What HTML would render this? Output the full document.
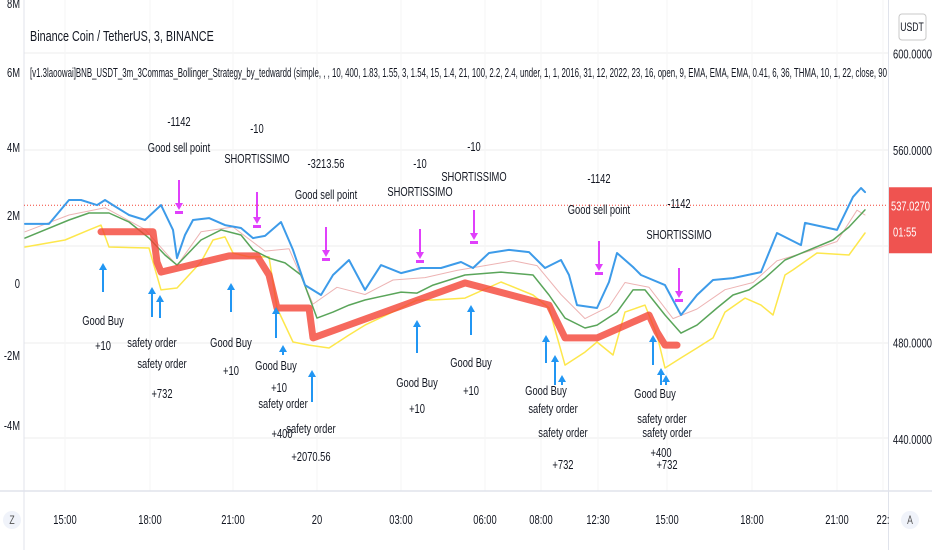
<!DOCTYPE html>
<html><head><meta charset="utf-8"><style>
html,body{margin:0;padding:0;background:#fff;}
#wrap{position:relative;width:932px;height:550px;overflow:hidden;font-family:"Liberation Sans",sans-serif;}
svg{position:absolute;left:0;top:0;}
</style></head><body>
<div id="wrap">
<svg id="chart" width="932" height="550" viewBox="0 0 932 550"></svg>
</div>
<script>
// ---- data (bar index / price) ----
const upperBars=[0,6,11,14,18,20,22,26,30,34,37,38,40,42,46,50,54,57,60,64,67,70,74,77,81,85,89,94,99,104,109,112,116,121,126,130,134,136,138,143,146,148,152,154,160,164,168,172,177,184,188,194,195,203,207,209,210];
const upperVals=[529.3,529.3,539.2,539.2,537.1,539.2,537.1,533.0,530.9,537.1,526.8,515.1,524.7,530.9,531.7,528.8,527.6,523.4,524.3,530.1,518.5,503.9,499.8,508.1,514.3,501.9,512.2,508.9,511.0,511.0,513.5,511.0,517.2,518.5,517.6,511.0,514.3,508.1,495.6,494.4,505.2,517.2,511.4,508.1,503.9,491.5,499.8,506.0,506.8,509.3,525.5,520.5,529.7,526.8,540.5,544.2,542.5];
const midBars=[0,11,16,21,26,31,35,38,44,49,54,57,61,65,69,73,77,81,85,94,98,102,110,119,127,131,135,140,143,148,152,155,160,164,168,173,177,181,185,190,202,206,210];
const midVals=[523.4,530.9,533.8,533.8,530.1,523.4,516.4,512.2,522.6,526.8,524.7,518.5,515.1,513.1,508.1,490.2,492.7,495.6,497.7,501.0,500.6,503.9,508.1,509.3,508.1,499.8,490.2,486.1,487.3,492.7,501.9,501.9,491.5,484.0,487.3,494.4,499.8,501.9,506.8,514.3,522.6,528.0,535.1];
const lowerBars=[0,10,16,19,21,31,34,38,44,47,50,52,56,61,63,67,71,76,81,85,94,98,102,110,119,127,131,135,140,143,147,150,155,158,160,164,168,172,175,180,184,187,190,192,198,206,210];
const lowerVals=[519.7,522.6,526.8,528.8,519.7,519.3,501.9,502.7,513.5,522.6,523.9,517.2,515.6,515.6,494.4,480.3,479.0,477.8,483.2,487.3,494.4,497.7,497.7,498.5,505.2,499.8,494.4,470.7,476.1,480.3,474.9,492.7,495.6,483.2,469.5,473.7,477.8,482.0,492.7,498.5,495.6,491.5,508.1,510.2,517.2,516.4,525.5];
const avgBars=[19,32,33,34,51,58,61,63,71,72,110,131,135,143,156,158,160,163];
const avgVals=[526.0,526.0,513.5,509.3,516.0,516.0,508.1,494.4,494.4,482.0,504.8,495.6,482.0,482.0,491.5,484.4,479.0,479.0];
const closeBars=[0,11,20,30,38,44,52,60,66,72,78,85,92,100,108,115,122,128,134,140,146,150,156,162,168,175,182,188,196,203,208,210];
const closeVals=[526,533,536,527,512,526,528,518,519,496,503,500,506,507,510,512,514,512,500,490,495,505,503,490,494,502,505,514,518,522,535,533];
const lastPrice=537.027;
const priceTicks=[600,560,480,440];
const priceTickLabels=["600.0000","560.0000","480.0000","440.0000"];
const leftTicks=["8M","6M","4M","2M","0","-2M","-4M"];
const leftTickY=[3,72,147,215,283,355,425];
const timeTickBars=[10,31.25,52,73,94,115,129,143.25,160.5,181.75,203,214.5];
const timeTickLabels=["15:00","18:00","21:00","20","03:00","06:00","08:00","12:30","15:00","18:00","21:00","22:"];

const X=b=>25+b*4;
const Y=p=>53.5+(600-p)*2.41;
const NS="http://www.w3.org/2000/svg";
const svg=document.getElementById('chart');
const SX=0.72;
function mk(tag,attrs,parent){const e=document.createElementNS(NS,tag);for(const k in attrs)e.setAttribute(k,attrs[k]);(parent||svg).appendChild(e);return e;}
function txt(s,x,y,size,anchor,fill,parent){const t=mk('text',{x:(x/SX).toFixed(1),y:y,transform:'scale('+SX+',1)','font-size':size,'text-anchor':anchor||'middle',fill:fill||'#131722','font-family':'"Liberation Sans",sans-serif'},parent);t.textContent=s;return t;}

// grid
const grid=mk('g',{});


[53,150,246,343,438].forEach(y=>mk('line',{x1:24,x2:888,y1:y,y2:y,stroke:'#ececec','stroke-width':1},grid));
timeTickBars.forEach(b=>mk('line',{x1:X(b),x2:X(b),y1:0,y2:491,stroke:'#f6f6f6','stroke-width':1},grid));
mk('line',{x1:24,x2:24,y1:0,y2:550,stroke:'#e0e3eb'});
mk('line',{x1:888.5,x2:888.5,y1:0,y2:550,stroke:'#e0e3eb'});
mk('line',{x1:0,x2:932,y1:491,y2:491,stroke:'#e0e3eb','stroke-width':1.5});

// last price line
const lp=mk('line',{x1:24,x2:888,y1:Y(lastPrice),y2:Y(lastPrice),stroke:'#f44336','stroke-width':1,'stroke-dasharray':'1,2'});



function series(bars,vals,color,w,name,op){
  const d=bars.map((b,i)=>(i?'L':'M')+X(b).toFixed(1)+','+Y(vals[i]).toFixed(1)).join(' ');
  const p=mk('path',{d:d,fill:'none',stroke:color,'stroke-width':w,'stroke-linejoin':'round','stroke-linecap':'round',opacity:op||1});
  
  
}
series(closeBars,closeVals,'#e8a0a0',1,'price-close-line',0.8);
series(lowerBars,lowerVals,'#fde74c',1.5,'lower-band');
series(midBars,midVals,'#5aa55a',1.5,'middle-band');
series(upperBars,upperVals,'#3d9be9',2,'upper-band');
series(avgBars,avgVals,'#f44336',7,'average-position-line',0.8);

// annotations
const ann=mk('g',{});


function up(x,y1,y2){mk('line',{x1:x,x2:x,y1:y1+5,y2:y2,stroke:'#2196f3','stroke-width':2},ann);mk('polygon',{points:`${x-4},${y1+7} ${x},${y1} ${x+4},${y1+7}`,fill:'#2196f3'},ann);}
function down(x,y1,y2){mk('line',{x1:x,x2:x,y1:y1,y2:y2-5,stroke:'#e040fb','stroke-width':2},ann);mk('polygon',{points:`${x-4},${y2-7} ${x},${y2} ${x+4},${y2-7}`,fill:'#e040fb'},ann);mk('rect',{x:x-4,y:y2+1,width:8,height:3,fill:'#e040fb'},ann);}
[[103,263,292],[152,287,317],[160,295,318],[231,283,312],[276,307,338],[283,345,355],[312,370,402],[417,320,353],[471,305,335],[546,335,363],[555,355,385],[562,375,385],[653,335,365],[661,368,385],[666,375,385]].forEach(a=>up(...a));
[[179,180,210],[257,192,224],[326,227,257],[420,229,259],[474,210,240],[599,241,271],[679,268,298]].forEach(a=>down(...a));
const labels=[["-1142",179,126],["Good sell point",179,152],["-10",257,133],["SHORTISSIMO",257,163],["-3213.56",326,168],["Good sell point",326,199],["-10",420,168],["SHORTISSIMO",420,196],["-10",474,151],["SHORTISSIMO",474,181],["-1142",599,183],["Good sell point",599,214],["-1142",679,208],["SHORTISSIMO",679,239],
["Good Buy",103,325],["+10",103,350],["safety order",152,347],["safety order",162,368],["+732",162,398],["Good Buy",231,347],["+10",231,375],["Good Buy",276,370],["+10",279,392],["safety order",283,408],["+400",282,438],["safety order",311,433],["+2070.56",311,461],["Good Buy",417,387],["+10",417,413],["Good Buy",471,367],["+10",471,395],["Good Buy",546,395],["safety order",553,413],["safety order",563,437],["+732",563,469],["Good Buy",655,398],["safety order",662,423],["safety order",667,437],["+400",661,457],["+732",667,469]];
labels.forEach(l=>txt(l[0],l[1],l[2],13,'middle','#131722',ann));

// titles
const t1=txt("Binance Coin / TetherUS, 3, BINANCE",30,41,15,'start');


const t2=mk('text',{x:30,y:77,'font-size':13,fill:'#131722','font-family':'"Liberation Sans",sans-serif',textLength:857,lengthAdjust:'spacingAndGlyphs'});
t2.textContent="[v1.3laoowai]BNB_USDT_3m_3Commas_Bollinger_Strategy_by_tedwardd (simple, , , 10, 400, 1.83, 1.55, 3, 1.54, 15, 1.4, 21, 100, 2.2, 2.4, under, 1, 1, 2016, 31, 12, 2022, 23, 16, open, 9, EMA, EMA, EMA, 0.41, 6, 36, THMA, 10, 1, 22, close, 90";



// left axis
leftTicks.forEach((s,i)=>{const t=txt(s,20,leftTickY[i]+5,13,'end','#131722');});
// right axis
priceTicks.forEach((p,i)=>{const t=txt(priceTickLabels[i],893,Y(p)+5,13,'start','#131722');});
// last price box
const box=mk('rect',{x:889,y:Y(lastPrice)-18,width:43,height:66,fill:'#ef5350'});


txt(lastPrice.toFixed(4),891,Y(lastPrice)+5,13,'start','#fff');
txt("01:55",893,Y(lastPrice)+31,13,'start','#fff');
// USDT badge
const ub=mk('rect',{x:899,y:14,width:27,height:26,rx:3,fill:'#fff',stroke:'#c8c8c8'});


txt("USDT",912,31,12,'middle');
// time axis
timeTickBars.forEach((b,i)=>{const t=txt(timeTickLabels[i],X(b),524,13,'middle','#131722');});
const zc=mk('circle',{cx:12,cy:520,r:9,fill:'#f0f3fa'});


txt("Z",12,524,12,'middle','#555');
const ac=mk('circle',{cx:910,cy:520,r:9,fill:'#f0f3fa'});


txt("A",910,524,12,'middle','#555');
</script>
</body></html>
